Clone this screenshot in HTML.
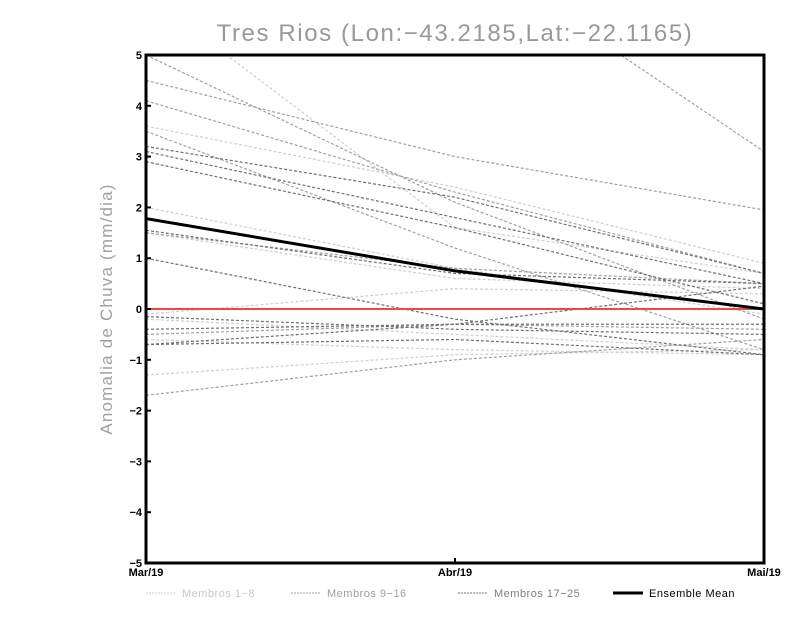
<!DOCTYPE html>
<html><head><meta charset="utf-8"><style>
body{margin:0;background:#fff}
svg{display:block;font-family:"Liberation Sans",sans-serif}
</style></head><body>
<svg id="c" width="800" height="618">
<text x="455" y="41" text-anchor="middle" font-size="24" fill="#999" letter-spacing="1.6">Tres Rios (Lon:−43.2185,Lat:−22.1165)</text>
<text transform="translate(112,309) rotate(-90)" text-anchor="middle" font-size="17" fill="#a0a0a0" letter-spacing="1.2">Anomalia de Chuva (mm/dia)</text>
<defs><clipPath id="clip"><rect x="146" y="55" width="618" height="508"/></clipPath></defs>
<g id="plot" clip-path="url(#clip)"></g>
<g id="axes"></g>
</svg>
<script>
const months = ["Mar/19","Abr/19","Mai/19"];
const yTicks = [-5,-4,-3,-2,-1,0,1,2,3,4,5];
const light = [[6.2,1.6,0.7],[3.6,2.4,0.9],[2.0,0.8,-0.1],[-0.1,0.4,0.3],[-0.2,-0.5,-0.8],[-1.3,-0.9,-0.8],[1.5,0.6,0.4],[-0.6,-0.8,-0.9]];
const mid = [[11,7.2,3.1],[4.5,3.0,1.95],[5.0,2.1,-0.2],[4.1,2.3,0.7],[3.5,1.2,-0.8],[1.5,0.8,0.5],[-0.5,-0.3,-0.4],[-1.7,-1.0,-0.6]];
const dark = [[3.2,2.2,0.7],[3.1,1.8,0.5],[2.9,1.6,0.1],[1.0,-0.2,-0.9],[1.55,0.7,0.5],[-0.7,-0.3,0.45],[-0.4,-0.3,-0.3],[-0.7,-0.6,-0.9],[-0.15,-0.4,-0.5]];
const mean = [1.78,0.75,0.0];
const legendLabels = ["Membros 1-8","Membros 9-16","Membros 17-25","Ensemble Mean"];

const NS="http://www.w3.org/2000/svg";
const X0=146,X1=764,Y0=563,Y1=55;
const xs=i=>X0+(X1-X0)*i/(months.length-1);
const ys=v=>Y0-(v+5)/10*(Y0-Y1);
function el(t,a,p){const e=document.createElementNS(NS,t);for(const k in a)e.setAttribute(k,a[k]);p.appendChild(e);return e;}
const plot=document.getElementById('plot'),axes=document.getElementById('axes'),svg=document.getElementById('c');
function line(vals,color,w,dash,name){
  const e=el('polyline',{points:vals.map((v,i)=>xs(i)+','+ys(v)).join(' '),fill:'none',stroke:color,'stroke-width':w},plot);
  if(dash)e.setAttribute('stroke-dasharray',dash);
  
  
}
light.forEach(s=>line(s,'#cfcfcf',1.2,'3,2','member-line-light'));
mid.forEach(s=>line(s,'#a0a0a0',1.2,'3,2','member-line-mid'));
dark.forEach(s=>line(s,'#707070',1.2,'3,2','member-line-dark'));
const z=el('line',{x1:X0,x2:X1,y1:ys(0),y2:ys(0),stroke:'#f04848','stroke-width':2},plot);


line(mean,'#000',3,null,'ensemble-mean-line');
const fr=el('rect',{x:X0,y:Y1,width:X1-X0,height:Y0-Y1,fill:'none',stroke:'#000','stroke-width':3},axes);


yTicks.forEach(v=>{
  el('line',{x1:X0,x2:X0+5,y1:ys(v),y2:ys(v),stroke:'#000','stroke-width':2},axes);
  const t=el('text',{x:X0-4,y:ys(v)+4,'text-anchor':'end','font-size':11,'font-weight':'bold'},axes);
  t.textContent=(v<0?'−':'')+Math.abs(v);
  
  
});
months.forEach((m,i)=>{
  el('line',{x1:xs(i),x2:xs(i),y1:Y0,y2:Y0-5,stroke:'#000','stroke-width':2},axes);
  const t=el('text',{x:xs(i),y:Y0+13,'text-anchor':'middle','font-size':11,'font-weight':'bold'},axes);
  t.textContent=m;
  
  
});
const lg=[{x:146,c:'#cfcfcf',tc:'#c8c8c8',w:1,d:'2,1'},{x:291,c:'#a0a0a0',tc:'#a0a0a0',w:1,d:'2,1'},{x:458,c:'#707070',tc:'#808080',w:1,d:'2,1'},{x:613,c:'#000',tc:'#000',w:3,d:null}];
lg.forEach((g,i)=>{
  const gg=el('g',{},svg);
  
  
  const l=el('line',{x1:g.x,x2:g.x+30,y1:593,y2:593,stroke:g.c,'stroke-width':g.w},gg);
  if(g.d)l.setAttribute('stroke-dasharray',g.d);
  const t=el('text',{x:g.x+36,y:597,'font-size':11,fill:g.tc,'letter-spacing':0.5},gg);
  t.textContent=legendLabels[i].replace('-','−');
});
</script>
</body></html>
